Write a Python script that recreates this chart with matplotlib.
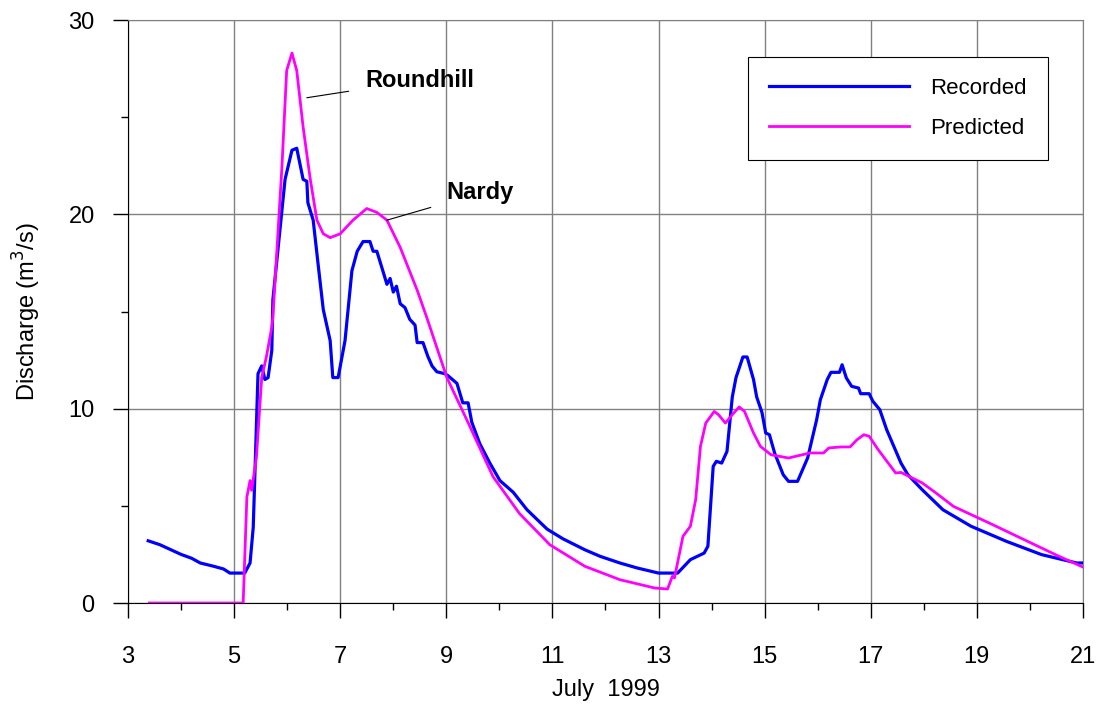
import matplotlib
matplotlib.use("Agg")
import matplotlib.pyplot as plt

plt.rcParams['font.family'] = ['Liberation Sans', 'DejaVu Sans']

# recorded discharge, July 1999 (day, m3/s)
rec_day = [3.38, 3.6, 3.8, 4.0, 4.2, 4.36, 4.6, 4.8, 4.92, 5.2, 5.30, 5.36, 5.45, 5.52,
           5.58, 5.64, 5.71, 5.73, 5.96, 6.09, 6.18, 6.30, 6.37, 6.39, 6.49, 6.58, 6.68,
           6.81, 6.86, 6.96, 7.09, 7.22, 7.32, 7.43, 7.56, 7.62, 7.69, 7.78, 7.88, 7.94,
           8.0, 8.06, 8.13, 8.22, 8.31, 8.41, 8.45, 8.56, 8.65, 8.73, 8.82, 8.97, 9.03,
           9.20, 9.31, 9.41, 9.48, 9.63, 9.82, 10.01, 10.26, 10.52, 10.9, 11.2, 11.61,
           11.9, 12.27, 12.6, 13.0, 13.36, 13.60, 13.86, 13.93, 14.03, 14.09, 14.19,
           14.29, 14.39, 14.46, 14.59, 14.67, 14.79, 14.85, 14.95, 15.02, 15.09, 15.19,
           15.35, 15.45, 15.62, 15.81, 15.98, 16.05, 16.18, 16.25, 16.41, 16.46, 16.54,
           16.64, 16.77, 16.81, 16.97, 17.04, 17.17, 17.30, 17.57, 17.70, 17.97, 18.36,
           18.89, 19.56, 20.22, 20.88, 21.0]
rec_q = [3.2, 3.0, 2.75, 2.5, 2.3, 2.06, 1.9, 1.75, 1.54, 1.54, 2.06, 3.9, 11.8, 12.2,
         11.5, 11.6, 13.0, 15.6, 21.8, 23.3, 23.4, 21.8, 21.7, 20.6, 19.7, 17.5, 15.1,
         13.5, 11.6, 11.6, 13.5, 17.1, 18.1, 18.6, 18.6, 18.1, 18.1, 17.3, 16.4, 16.7,
         16.0, 16.3, 15.4, 15.2, 14.6, 14.3, 13.4, 13.4, 12.7, 12.2, 11.9, 11.8, 11.7,
         11.3, 10.3, 10.3, 9.3, 8.2, 7.2, 6.3, 5.7, 4.8, 3.8, 3.3, 2.74, 2.4, 2.06, 1.8,
         1.54, 1.54, 2.23, 2.57, 2.92, 7.03, 7.29, 7.2, 7.8, 10.6, 11.6, 12.66, 12.66,
         11.5, 10.6, 9.8, 8.75, 8.66, 7.7, 6.6, 6.26, 6.26, 7.46, 9.43, 10.46, 11.5,
         11.87, 11.87, 12.26, 11.58, 11.15, 11.06, 10.77, 10.77, 10.38, 9.95, 8.92,
         7.2, 6.6, 5.83, 4.8, 3.95, 3.17, 2.49, 2.06, 2.06]

# predicted discharge
pred_day = [3.4, 5.17, 5.24, 5.30, 5.33, 5.42, 5.52, 5.61, 5.71, 5.73, 5.9, 5.99, 6.09,
            6.18, 6.30, 6.43, 6.56, 6.68, 6.81, 7.0, 7.24, 7.5, 7.69, 7.88, 8.13, 8.45,
            8.63, 9.01, 9.39, 9.88, 10.38, 10.95, 11.61, 12.27, 12.93, 13.17, 13.26,
            13.3, 13.46, 13.6, 13.7, 13.79, 13.89, 14.05, 14.13, 14.26, 14.39, 14.52,
            14.62, 14.79, 14.92, 15.12, 15.45, 15.85, 16.11, 16.21, 16.44, 16.61,
            16.74, 16.87, 16.97, 17.14, 17.47, 17.57, 17.97, 18.23, 18.56, 19.23,
            19.89, 20.55, 21.0]
pred_q = [0.0, 0.0, 5.45, 6.3, 5.8, 7.5, 11.6, 12.7, 14.2, 14.7, 22.4, 27.4, 28.3,
          27.4, 24.5, 21.9, 19.7, 19.0, 18.8, 19.0, 19.7, 20.3, 20.1, 19.7, 18.3, 16.1,
          14.7, 11.6, 9.4, 6.5, 4.6, 3.0, 1.89, 1.2, 0.77, 0.72, 1.37, 1.29, 3.43, 3.95,
          5.32, 8.06, 9.26, 9.86, 9.69, 9.26, 9.69, 10.09, 9.86, 8.75, 8.06, 7.63, 7.46,
          7.72, 7.72, 7.98, 8.03, 8.03, 8.4, 8.66, 8.58, 7.89, 6.69, 6.72, 6.18, 5.66,
          4.97, 4.12, 3.26, 2.4, 1.85]

x_major = list(range(3, 22, 2))
x_minor = list(range(4, 21, 2))
y_major = [0, 10, 20, 30]
y_minor = [5, 15, 25]

fig = plt.figure(figsize=(11, 7.07), dpi=100)
ax = fig.add_axes([0.1164, 0.1471, 0.8681, 0.8246])

ax.plot(rec_day, rec_q, color='#0000FF', lw=2.3, label='Recorded', zorder=3)
ax.plot(pred_day, pred_q, color='#FF00FF', lw=2.0, label='Predicted', zorder=3)

ax.set_xlim(3, 21)
ax.set_ylim(0, 30)
ax.set_xticks(x_major)
ax.set_xticks(x_minor, minor=True)
ax.set_yticks(y_major)
ax.set_yticks(y_minor, minor=True)
ax.grid(True, which='major', color='#808080', lw=1)
ax.tick_params(which='major', direction='out', length=11, width=1, labelsize=17)
ax.tick_params(which='minor', direction='out', length=5, width=1)
ax.tick_params(axis='x', pad=20)
ax.tick_params(axis='y', pad=13)
for s in ['top', 'right']:
    ax.spines[s].set_color('#808080')

ax.set_xlabel('July  1999', fontsize=17, labelpad=8)
ax.set_ylabel('Discharge (m$^3$/s)', fontsize=17, labelpad=18)

ax.annotate('Roundhill', xy=(6.37, 26.0), xytext=(7.47, 26.9), fontsize=17,
            fontweight='bold', va='center',
            arrowprops=dict(arrowstyle='-', color='black', lw=0.8, shrinkA=10, shrinkB=0))
ax.annotate('Nardy', xy=(7.88, 19.7), xytext=(9.01, 21.1), fontsize=17,
            fontweight='bold', va='center',
            arrowprops=dict(arrowstyle='-', color='black', lw=0.8, shrinkA=10, shrinkB=0))

leg = ax.legend(loc='upper right', bbox_to_anchor=(0.963, 0.9365), fontsize=16,
                fancybox=False, edgecolor='black', framealpha=1, handlelength=6.3,
                borderpad=0.95, labelspacing=0.85, handletextpad=0.95, borderaxespad=0)
leg.get_frame().set_linewidth(0.8)

fig.savefig('out.png', dpi=100)
